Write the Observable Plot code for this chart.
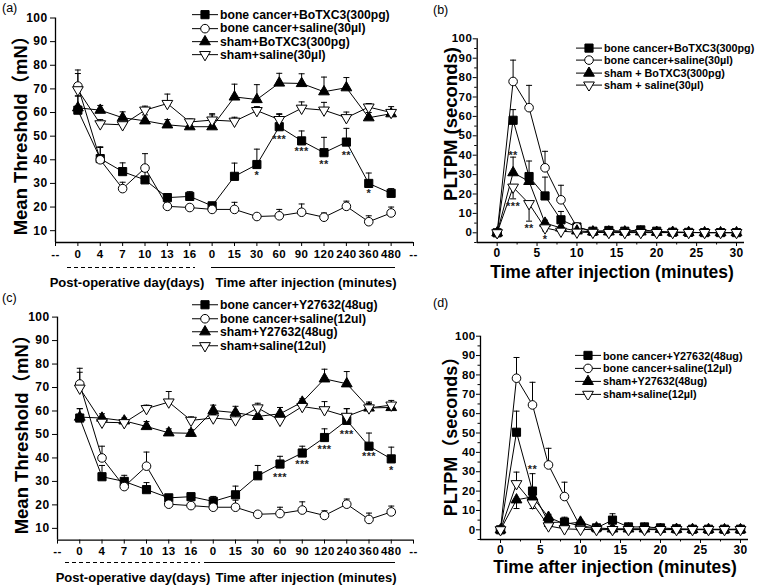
<!DOCTYPE html>
<html><head><meta charset="utf-8">
<script src="https://cdn.jsdelivr.net/npm/d3@7"></script>
<script src="https://cdn.jsdelivr.net/npm/@observablehq/plot@0.6"></script>
<style>
body{margin:0;background:#fff;}
#root{position:relative;width:760px;height:586px;overflow:hidden;background:#fff;color:#000;
 font-family:"Liberation Sans",Arial,"Noto Sans CJK SC",sans-serif;}
.abs{position:absolute;white-space:nowrap;}
.plotbox svg text{letter-spacing:0.4px;}
</style></head><body><div id="root"></div>
<script>
// ---------- Panel (a) ----------
const A_xLabels = ["--","0","4","7","10","13","16","0","15","30","60","90","120","240","360","480","--"];
const A_x = [1,2,3,4,5,6,7,8,9,10,11,12,13,14,15];
const A_bcBo   = [61, 40.5, 35, 31.5, 24, 24.5, 20.5, 33, 38, 54, 48, 43, 47.5, 30, 25.8];
const A_bcBoE  = [67, 45.5, 38.7, 35, 25.5, 26.5, 22, 38.6, 44.5, 59.2, 52.2, 49.5, 53.3, 34.4, 27.8];
const A_bcSal  = [71.2, 40, 27.8, 36.5, 20.3, 19.8, 19, 19, 16, 16.3, 17.8, 15.7, 20.3, 13.8, 17.5];
const A_bcSalE = [78, 45.2, 30.5, 42.6, 21.8, 21, 21.5, 22, 16.8, 19, 21.3, 17.5, 22.5, 16.3, 20];
const A_shBo   = [62, 61, 57.8, 56.5, 54.8, 54, 54, 66.6, 65.5, 72.5, 72.3, 68.8, 70.5, 57.8, 59.5];
const A_shBoE  = [67, 63, 60.3, 59, 57, 55.6, 59.5, 72, 71.8, 76.6, 76.4, 75, 74.8, 60, 61];
const A_shSal  = [69.6, 55.2, 54.8, 61, 63.8, 56, 56.8, 56.3, 60.8, 57, 61.8, 61, 57.8, 62.3, 60];
const A_shSalE = [76.5, 57, 55.8, 62.7, 67.8, 57.3, 59, 58, 62.5, 59.5, 64.5, 64.3, 60.2, 63.8, 62.5];
const A_starX = [9, 10, 11, 12, 13, 14];
const A_starY = [34.5, 50, 44.7, 39.5, 43.3, 27];
const A_starT = ["*", "***", "***", "**", "**", "*"];
const A_legend = ["bone cancer+BoTXC3(300pg)", "bone cancer+saline(30\u00b5l)", "sham+BoTXC3(300pg)", "sham+saline(30\u00b5l)"];

// ---------- Panel (b) ----------
const B_x = [0,2,4,6,8,10,12,14,16,18,20,22,24,26,28,30];
const B_bcBo   = [0, 58, 29, 19, 6.7, 3, 0.8, 1.2, 0.8, 1.5, 0.8, 0.3, 0.2, 0.1, 0.1, 0.1];
const B_bcBoE  = [null, 63.5, 37, 28.7, 11, 4.5, 1.5, 2, 1.5, 2.5, 1.5, 1, null, null, null, null];
const B_bcSal  = [0, 78, 64.5, 33.5, 17, 3, 0.5, 0.3, 0.5, 0.3, 0.3, 0.2, 0.2, 0.1, 0.1, 0.1];
const B_bcSalE = [null, 89, 76, 42, 24.5, 4, 1, 1, 1.5, 1, 1, 0.8, 0.8, 0.5, 0.5, 0.5];
const B_shBo   = [0, 31, 26.5, 5, 2.5, 1, 0.5, 0.5, 0.5, 0.5, 0.3, 0.3, 0.2, 0.1, 0.1, 0.1];
const B_shBoE  = [null, 39, 29, 6.5, 3.5, 1.5, null, null, null, null, null, null, null, null, null, null];
const B_shSal  = [0, 23.5, 15, 2.5, 0.8, 0.3, 0.2, 0.1, 0.1, 0.1, 0.1, 0.1, 0.1, 0.1, 0.1, 0.1];
const B_shSalE = [null, 17.5, 6, 1, null, null, null, null, null, null, null, null, null, null, null, null];
const B_starX = [2, 2, 4, 6];
const B_starY = [41.5, 15, 3.8, -1.9];
const B_starT = ["**", "***", "**", "*"];
const B_legend = ["bone cancer+BoTXC3(300pg)", "bone cancer+saline(30\u00b5l)", "sham + BoTXC3(300pg)", "sham + saline(30\u00b5l)"];

// ---------- Panel (c) ----------
const C_xLabels = ["--","0","4","7","10","13","16","0","15","30","60","90","120","240","360","480","--"];
const C_x = [1,2,3,4,5,6,7,8,9,10,11,12,13,14,15];
const C_bcY    = [57, 32, 30, 26.5, 23, 23.5, 21.5, 24.3, 32.4, 37.4, 42.1, 48.7, 56, 45, 39.6];
const C_bcYE   = [61, 36.8, 32.6, 29.5, 24, 24.5, 23.6, 28, 36.8, 40.7, 45, 52.4, 61, 50.6, 44.6];
const C_bcSal  = [71.5, 40, 27.8, 36.5, 20.3, 19.7, 19, 19, 16, 16.3, 17.8, 15.5, 20.3, 13.8, 17];
const C_bcSalE = [78.2, 45, 30, 42.5, 21.5, 21, 21.5, 22, 16.8, 19, 21.3, 17.5, 22.5, 16.5, 19.5];
const C_shY    = [57.4, 57, 55.8, 53.4, 50.7, 50.5, 60.2, 59.3, 57.7, 58.8, 63.8, 73.7, 71.6, 61.3, 61.5];
const C_shYE   = [61, 58.8, 57, 55.5, 52.4, 52, 62.5, 62, 60, 61.5, 65.2, 77.8, 76.8, 63.2, 63];
const C_shSal  = [69.7, 55.2, 55, 61, 63.8, 56, 57, 56.2, 61.3, 56, 61.9, 60.5, 57.7, 61.3, 62.5];
const C_shSalE = [76.5, 57, 56, 62.5, 68.3, 57.5, 58.5, 58, 63.3, 57.5, 63.5, 64, 61, 63.8, 64.5];
const C_starX = [10, 11, 12, 13, 14, 15];
const C_starY = [32.9, 38.6, 44.9, 51.2, 41.7, 36];
const C_starT = ["***", "***", "***", "***", "***", "*"];
const C_legend = ["bone cancer+Y27632(48ug)", "bone cancer+saline(12ul)", "sham+Y27632(48ug)", "sham+saline(12ul)"];

// ---------- Panel (d) ----------
const D_x = [0,2,4,6,8,10,12,14,16,18,20,22,24,26,28,30];
const D_bcY    = [0, 50.4, 20, 3.8, 4, 2, 1, 5, 1.5, 1.5, 1, 0.5, 0.3, 0.3, 0.3, 0.3];
const D_bcYE   = [null, 61.3, 29, 5, 6.5, 3, 2, 8.3, 2.5, 2.5, 2, 1, null, null, null, null];
const D_bcSal  = [0, 78.3, 64.5, 33.5, 17.2, 1.5, 0.5, 0.3, 0.3, 0.3, 0.3, 0.2, 0.2, 0.1, 0.1, 0.3];
const D_bcSalE = [null, 89, 76.2, 42.1, 24.6, 2.5, 1, 1, 1, 1, 1, 0.8, 0.8, 0.5, 0.5, 1];
const D_shY    = [0, 15.5, 17, 6.5, 3, 4, 1, 0.5, 0.5, 0.5, 0.3, 0.3, 0.2, 0.2, 0.1, 0.1];
const D_shYE   = [null, 11, 19, 8, 4, 5, 1.5, null, null, null, null, null, null, null, null, null];
const D_shSal  = [0, 23.8, 13.8, 2, 0.5, 0.2, 0.1, 0.1, 0.1, 0.1, 0.1, 0.1, 0.1, 0.1, 0.1, 0.1];
const D_shSalE = [null, 29.8, 11, 1, null, null, null, null, null, null, null, null, null, null, null, null];
const D_starX = [4];
const D_starY = [32.5];
const D_starT = ["**"];
const D_legend = ["bone cancer+Y27632(48ug)", "bone cancer+saline(12\u00b5l)", "sham+Y27632(48ug)", "sham+saline(12\u00b5l)"];

// ---------- drawing ----------
const capSym = {draw(ctx, size){const r = Math.sqrt(size/Math.PI); ctx.moveTo(-r,0); ctx.lineTo(r,0);}};
const downTri = {draw(ctx, size){const y = Math.sqrt(size/(3*Math.sqrt(3))); const s = Math.sqrt(3)*y;
  ctx.moveTo(0, 2*y); ctx.lineTo(-s, -y); ctx.lineTo(s, -y); ctx.closePath();}};
const symSpec = [
  {symbol: d3.symbolSquare, fill: "black", r: 4.6},
  {symbol: d3.symbolCircle, fill: "white", r: 4.3},
  {symbol: d3.symbolTriangle, fill: "black", r: 4},
  {symbol: downTri, fill: "white", r: 4}
];
const rows = (xs, ys, es) => xs.map((x, i) => ({x, y: ys[i], e: es[i]}));
const stars = (xs, ys, ts) => xs.map((x, i) => ({x, y: ys[i], t: ts[i]}));

function panel(cfg) {
  const sets = cfg.series.map(([ys, es]) => rows(cfg.xs, ys, es));
  const [x0, x1] = cfg.xDomain, [y0, y1] = cfg.yDomain;
  const marks = [
    Plot.ruleX([x0], {y1: y0, y2: y1, stroke: "black", strokeWidth: 1.3}),
    Plot.ruleY([y0], {x1: x0, x2: x1, stroke: "black", strokeWidth: 1.3}),
    ...cfg.axes
  ];
  sets.forEach(d => marks.push(Plot.line(d, {x: "x", y: "y", stroke: "black", strokeWidth: 1})));
  sets.forEach(d => {
    const eb = d.filter(p => p.e != null && p.e !== p.y);
    marks.push(Plot.ruleX(eb, {x: "x", y1: "y", y2: "e", stroke: "black", strokeWidth: 1}));
    marks.push(Plot.dot(eb, {x: "x", y: "e", symbol: capSym, r: 3, stroke: "black", fill: "none", strokeWidth: 1}));
  });
  sets.forEach((d, k) => marks.push(Plot.dot(d, {x: "x", y: "y", symbol: symSpec[k].symbol, r: symSpec[k].r,
    fill: symSpec[k].fill, stroke: "black", strokeWidth: 1})));
  marks.push(Plot.text(cfg.stars, {x: "x", y: "y", text: "t", fontSize: 11, dy: 3, fill: "#222"}));
  const svg = Plot.plot({
    width: cfg.width, height: cfg.height,
    marginLeft: cfg.m[0], marginRight: cfg.m[1], marginTop: cfg.m[2], marginBottom: cfg.m[3],
    x: {domain: cfg.xDomain, label: null}, y: {domain: cfg.yDomain, label: null},
    style: {fontFamily: "Liberation Sans, Arial, sans-serif", fontSize: "11.5px", fontWeight: "bold",
      overflow: "visible", background: "transparent", color: "black"},
    marks
  });
  const box = document.createElement("div");
  box.className = "abs plotbox";
  box.style.left = cfg.left + "px"; box.style.top = cfg.top + "px";
  box.appendChild(svg);
  document.getElementById("root").appendChild(box);
}

function catAxes(labels, yTicks) {
  return [
    Plot.axisX({ticks: d3.range(labels.length), tickFormat: i => labels[i], tickSize: 4, tickPadding: 3, label: null}),
    Plot.axisY({ticks: yTicks, tickSize: 5, tickPadding: 3, label: null, fontSize: 12})
  ];
}
function numAxes(xTicks, xMinor, yTicks, yMinor) {
  return [
    Plot.axisX({ticks: xTicks, tickSize: 4, tickPadding: 2, label: null, fontSize: 12}),
    Plot.axisX({ticks: xMinor, tickSize: 2.5, tickFormat: () => "", label: null}),
    Plot.axisY({ticks: yTicks, tickSize: 4, tickPadding: 1, label: null}),
    Plot.axisY({ticks: yMinor, tickSize: 2.5, tickFormat: () => "", label: null})
  ];
}
const root = d3.select("#root");
function html(cls, left, top, text, style) {
  const el = root.append("div").attr("class", "abs " + (cls || "")).style("left", left + "px").style("top", top + "px").text(text);
  Object.entries(style || {}).forEach(([k, v]) => el.style(k, v));
  return el;
}
function centered(cx, cy, text, size, rotate) {
  html("", cx, cy, text, {"font-size": size + "px", "font-weight": "bold",
    transform: `translate(-50%,-50%)${rotate ? " rotate(-90deg)" : ""}`});
}
function legend(left, top, rowH, fontSize, labels) {
  const div = root.append("div").attr("class", "abs").style("left", left + "px").style("top", top + "px")
    .style("font-size", fontSize + "px").style("font-weight", "bold");
  labels.forEach((lab, k) => {
    const row = div.append("div").style("display", "flex").style("align-items", "center").style("height", rowH + "px");
    const w = 26;
    const svg = row.append("svg").attr("width", w).attr("height", rowH).style("flex", "none");
    svg.append("line").attr("x1", 0).attr("x2", w).attr("y1", rowH / 2).attr("y2", rowH / 2).attr("stroke", "black");
    const s = symSpec[k];
    svg.append("path").attr("d", d3.symbol(s.symbol, Math.PI * s.r * s.r)())
      .attr("transform", `translate(${w / 2},${rowH / 2})`).attr("fill", s.fill).attr("stroke", "black");
    row.append("span").style("margin-left", "2px").text(lab);
  });
}
function groupLine(x1, x2, y, dashed) {
  root.append("div").attr("class", "abs").style("left", x1 + "px").style("top", y + "px")
    .style("width", (x2 - x1) + "px").style("height", "1px")
    .style("background", dashed ? "repeating-linear-gradient(to right,#000 0 4px,transparent 4px 7px)" : "#000");
}

const yTicksA = d3.range(10, 101, 10);
const yTicksB = d3.range(0, 101, 10);
const yMinorB = d3.range(-5, 100, 10);
const xTicksB = d3.range(0, 31, 5);
const xMinorB = d3.range(2.5, 30, 5);

// (a)
panel({left: 0, top: 0, width: 420, height: 290, m: [55, 7, 17.5, 48],
  xs: A_x, xDomain: [0, 16], yDomain: [5, 100],
  series: [[A_bcBo, A_bcBoE], [A_bcSal, A_bcSalE], [A_shBo, A_shBoE], [A_shSal, A_shSalE]],
  axes: catAxes(A_xLabels, yTicksA), stars: stars(A_starX, A_starY, A_starT)});
// (b)
panel({left: 400, top: 0, width: 360, height: 290, m: [76.7, 16, 38.3, 48],
  xs: B_x, xDomain: [-2.5, 31], yDomain: [-5, 100],
  series: [[B_bcBo, B_bcBoE], [B_bcSal, B_bcSalE], [B_shBo, B_shBoE], [B_shSal, B_shSalE]],
  axes: numAxes(xTicksB, xMinorB, yTicksB, yMinorB), stars: stars(B_starX, B_starY, B_starT)});
// (c)
panel({left: 0, top: 290, width: 420, height: 296, m: [57, 7, 26.6, 46.4],
  xs: C_x, xDomain: [0, 16], yDomain: [5, 100],
  series: [[C_bcY, C_bcYE], [C_bcSal, C_bcSalE], [C_shY, C_shYE], [C_shSal, C_shSalE]],
  axes: catAxes(C_xLabels, yTicksA), stars: stars(C_starX, C_starY, C_starT)});
// (d)
panel({left: 400, top: 290, width: 360, height: 296, m: [80, 12, 45.7, 47],
  xs: D_x, xDomain: [-2.5, 31], yDomain: [-5, 100],
  series: [[D_bcY, D_bcYE], [D_bcSal, D_bcSalE], [D_shY, D_shYE], [D_shSal, D_shSalE]],
  axes: numAxes(xTicksB, xMinorB, yTicksB, yMinorB), stars: stars(D_starX, D_starY, D_starT)});

// panel letters
html("", 2, 1, "(a)", {"font-size": "12.5px"});
html("", 433, 3, "(b)", {"font-size": "12.5px"});
html("", 2, 291, "(c)", {"font-size": "12.5px"});
html("", 433, 296, "(d)", {"font-size": "12.5px"});

// axis titles
centered(19, 131, "Mean Threshold\uff08mN\uff09", 18.5, true);
centered(20, 430, "Mean Threshold\uff08mN\uff09", 18.5, true);
centered(451, 124, "PLTPM (seconds)", 18.5, true);
centered(449, 432, "PLTPM\uff08seconds\uff09", 18, true);
centered(612, 272, "Time after injection (minutes)", 17.5);
centered(615, 567, "Time after injection (minutes)", 17.5);

// group labels under category axes
groupLine(67, 195, 267, true); groupLine(211, 395, 267, false);
centered(127, 282, "Post-operative day(days)", 13);
centered(306, 282, "Time after injection (minutes)", 13);
groupLine(65, 200, 562, true); groupLine(204, 395, 562, false);
centered(133, 577, "Post-operative day(days)", 13);
centered(306, 577, "Time after injection (minutes)", 13);

// legends
legend(192, 8.4, 13.3, 12.2, A_legend);
legend(576, 42.2, 12.2, 10.8, B_legend);
legend(192, 298.3, 13.5, 12.2, C_legend);
legend(575, 349.3, 12.8, 10.8, D_legend);
</script></body></html>
